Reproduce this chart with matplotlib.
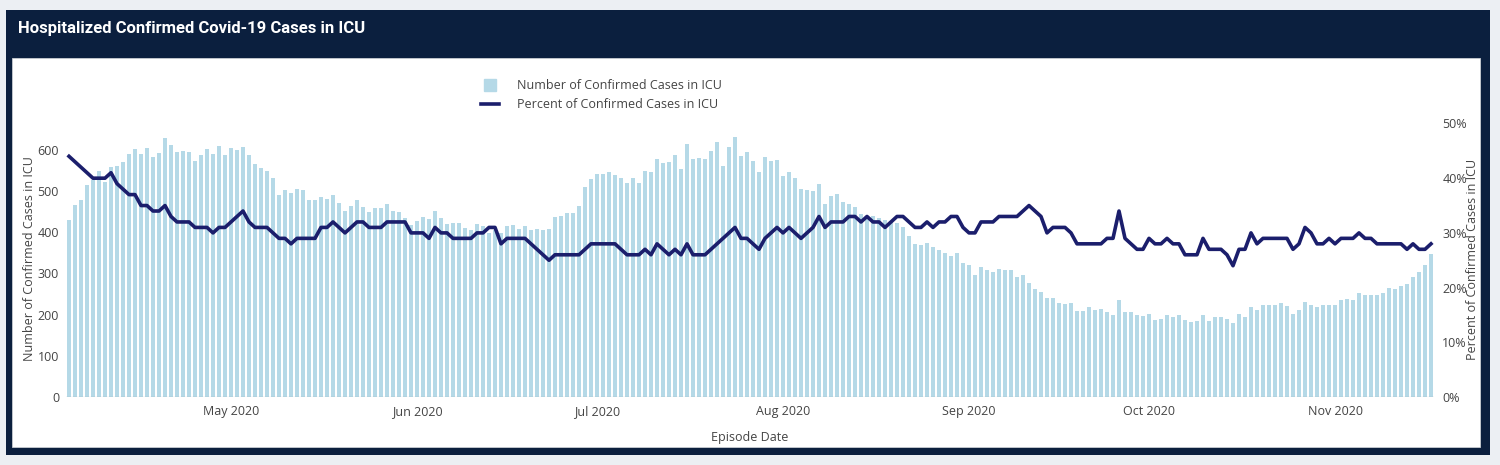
import matplotlib.pyplot as plt
import matplotlib.dates as mdates
from matplotlib.patches import Rectangle
from matplotlib.lines import Line2D
from matplotlib.ticker import PercentFormatter, MultipleLocator
import pandas as pd

plt.rcParams['font.family'] = ['Open Sans', 'DejaVu Sans']

# daily values, first day 2020-04-04
start_date = '2020-04-04'
icu_cases = [
    430, 466, 478, 513, 527, 548, 521, 558, 559, 570, 588, 601, 589, 603, 581, 591,
    628, 612, 595, 596, 595, 573, 586, 601, 590, 608, 587, 604, 600, 605, 586, 566,
    555, 549, 530, 490, 503, 495, 505, 503, 478, 478, 486, 481, 490, 470, 452, 462,
    477, 461, 448, 458, 458, 468, 452, 448, 434, 418, 427, 436, 431, 452, 435, 420,
    421, 423, 410, 404, 419, 415, 398, 404, 398, 414, 418, 408, 414, 406, 408, 405,
    407, 436, 440, 446, 445, 464, 510, 529, 541, 541, 545, 539, 532, 520,
    530, 520, 549, 545, 576, 568, 570, 587, 552, 614, 576, 580, 578, 596, 619, 559,
    606, 631, 585, 595, 573, 546, 581, 571, 575, 535, 545, 530, 505, 503, 499, 517,
    469, 487, 492, 474, 467, 460, 443, 435, 440, 434, 428, 427, 421, 411, 390,
    372, 368, 373, 363, 357, 348, 343, 348, 325, 319, 297, 315, 309, 302, 310, 309,
    309, 292, 297, 277, 263, 255, 240, 241, 228, 226, 229, 208, 208, 217, 211, 213,
    206, 200, 234, 206, 205, 200, 196, 201, 187, 188, 198, 194, 198, 187, 182,
    185, 200, 185, 193, 194, 190, 179, 202, 194, 218, 211, 224, 222, 222, 227, 220,
    201, 210, 230, 222, 218, 223, 224, 222, 236, 238, 236, 251, 247, 247, 247, 252,
    265, 263, 269, 273, 292, 303, 320, 346,
]
icu_percent = [
    44, 43, 42, 41, 40, 40, 40, 41, 39, 38, 37, 37, 35, 35, 34, 34,
    35, 33, 32, 32, 32, 31, 31, 31, 30, 31, 31, 32, 33, 34, 32, 31,
    31, 31, 30, 29, 29, 28, 29, 29, 29, 29, 31, 31, 32, 31, 30, 31,
    32, 32, 31, 31, 31, 32, 32, 32, 32, 30, 30, 30, 29, 31, 30, 30,
    29, 29, 29, 29, 30, 30, 31, 31, 28, 29, 29, 29, 29, 28, 27, 26,
    25, 26, 26, 26, 26, 26, 27, 28, 28, 28, 28, 28, 27, 26,
    26, 26, 27, 26, 28, 27, 26, 27, 26, 28, 26, 26, 26, 27, 28, 29,
    30, 31, 29, 29, 28, 27, 29, 30, 31, 30, 31, 30, 29, 30, 31, 33,
    31, 32, 32, 32, 33, 33, 32, 33, 32, 32, 31, 32, 33, 33, 32,
    31, 31, 32, 31, 32, 32, 33, 33, 31, 30, 30, 32, 32, 32, 33, 33,
    33, 33, 34, 35, 34, 33, 30, 31, 31, 31, 30, 28, 28, 28, 28, 28,
    29, 29, 34, 29, 28, 27, 27, 29, 28, 28, 29, 28, 28, 26, 26,
    26, 29, 27, 27, 27, 26, 24, 27, 27, 30, 28, 29, 29, 29, 29, 29,
    27, 28, 31, 30, 28, 28, 29, 28, 29, 29, 29, 30, 29, 29, 28, 28,
    28, 28, 28, 27, 28, 27, 27, 28,
]

dates = pd.date_range(start_date, periods=len(icu_cases), freq='D')
pct = [p / 100 for p in icu_percent]

BAR_COLOR = '#b5d9e7'
LINE_COLOR = '#1b1e6c'
NAVY = '#0b1f3e'
TEXT = '#444444'
FS = 9.0

W, H = 1500, 465


def fx(x):
    return x / W


def fy(y):
    return 1 - y / H


fig = plt.figure(figsize=(15, 4.65), dpi=100)
fig.patch.set_facecolor('#eceff3')

# card background, kept behind the axes
fig.add_artist(Rectangle((fx(6), fy(455)), fx(1490) - fx(6), (455 - 10) / H,
                         transform=fig.transFigure, facecolor=NAVY, edgecolor='none', zorder=-3))
fig.add_artist(Rectangle((fx(12), fy(447)), fx(1480) - fx(12), (447 - 58) / H,
                         transform=fig.transFigure, facecolor='white', edgecolor='#c8ccd2',
                         lw=0.6, zorder=-2))
fig.text(fx(18), fy(29), 'Hospitalized Confirmed Covid-19 Cases in ICU', color='white',
         fontsize=12, fontweight='bold', va='center', ha='left',
         family=['Liberation Sans Narrow', 'Roboto', 'DejaVu Sans'])

ax = fig.add_axes([fx(66), fy(397), (1434 - 66) / W, (397 - 112) / H])
ax.patch.set_visible(False)
ax.bar(dates, icu_cases, width=0.82, color=BAR_COLOR, zorder=2)
ax.axhline(0, color='#777777', lw=0.8, zorder=3)
ax.set_ylim(0, 691)
ax.yaxis.set_major_locator(MultipleLocator(100))
ax.set_xlim(dates[0] - pd.Timedelta(hours=12), dates[-1] + pd.Timedelta(hours=12))
ax.xaxis.set_major_locator(mdates.MonthLocator(bymonthday=1))
ax.xaxis.set_major_formatter(mdates.DateFormatter('%b %Y'))

ax2 = ax.twinx()
ax2.plot(dates, pct, color=LINE_COLOR, lw=2.6, zorder=4)
ax2.set_ylim(0, 0.521)
ax2.yaxis.set_major_locator(MultipleLocator(0.1))
ax2.yaxis.set_major_formatter(PercentFormatter(1.0, decimals=0))

for a in (ax, ax2):
    for s in a.spines.values():
        s.set_visible(False)
    a.tick_params(length=0, labelsize=FS, labelcolor=TEXT)
ax.tick_params(axis='y', pad=5)
ax.tick_params(axis='x', pad=6)
ax2.tick_params(axis='y', pad=6)

fig.text(fx(750), fy(437), 'Episode Date', ha='center', va='center', fontsize=FS, color=TEXT)
fig.text(fx(30), fy(259), 'Number of Confirmed Cases in ICU', ha='center', va='center',
         rotation=90, fontsize=FS, color=TEXT)
fig.text(fx(1473), fy(259), 'Percent of Confirmed Cases in ICU', ha='center', va='center',
         rotation=90, fontsize=FS, color=TEXT)

handles = [
    Line2D([], [], marker='s', ls='none', markersize=8.5, color=BAR_COLOR),
    Line2D([], [], color=LINE_COLOR, lw=2.6),
]
labels = ['Number of Confirmed Cases in ICU', 'Percent of Confirmed Cases in ICU']
fig.legend(handles, labels, loc='upper left', bbox_to_anchor=(fx(481), fy(79)),
           frameon=False, fontsize=FS, labelcolor=TEXT, borderpad=0, borderaxespad=0,
           handlelength=1.4, handletextpad=1.45, labelspacing=0.5)

fig.savefig('out.png', dpi=100, facecolor=fig.get_facecolor())
plt.close()
